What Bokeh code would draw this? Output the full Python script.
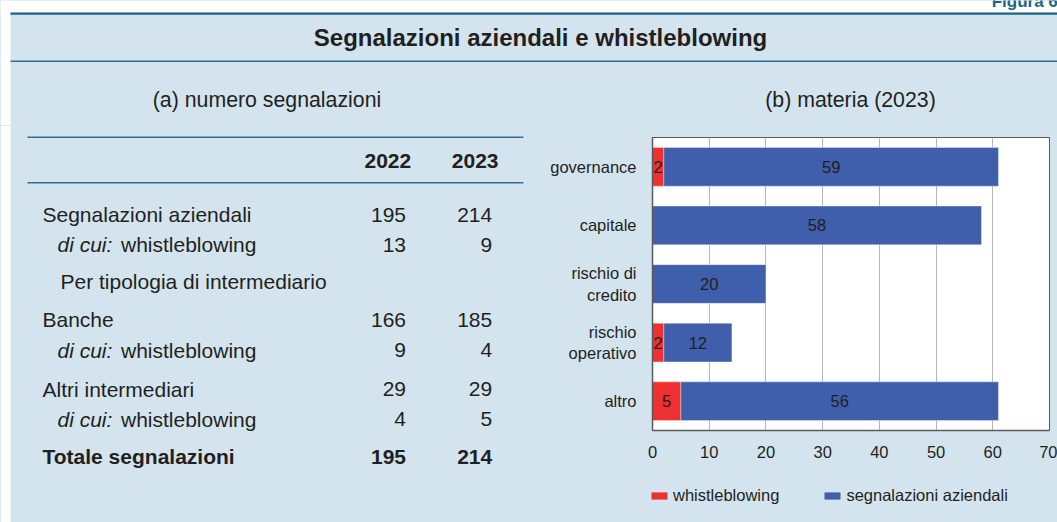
from bokeh.plotting import figure
from bokeh.models import (Range1d, ColumnDataSource, Legend, LegendItem, FixedTicker)
from bokeh.layouts import column, row
from bokeh.core.properties import value
from bokeh.embed import file_html
from bokeh.resources import INLINE

# ---------------- data ----------------
figure_tag = "Figura 6."
title = "Segnalazioni aziendali e whistleblowing"
subtitle_a = "(a) numero segnalazioni"
subtitle_b = "(b) materia (2023)"

years = ["2022", "2023"]
row_labels = ["Segnalazioni aziendali", "whistleblowing", "Per tipologia di intermediario",
              "Banche", "whistleblowing", "Altri intermediari", "whistleblowing",
              "Totale segnalazioni"]
row_prefix = ["", "di cui:", "", "", "di cui:", "", "di cui:", ""]
values_2022 = [195, 13, None, 166, 9, 29, 4, 195]
values_2023 = [214, 9, None, 185, 4, 29, 5, 214]

categories = ["governance", "capitale", "rischio di credito", "rischio operativo", "altro"]
category_lines = [["governance"], ["capitale"], ["rischio di", "credito"],
                  ["rischio", "operativo"], ["altro"]]
whistleblowing = [2, 0, 0, 2, 5]
segnalazioni = [59, 58, 20, 12, 56]
series_names = ["whistleblowing", "segnalazioni aziendali"]
x_ticks = [0, 10, 20, 30, 40, 50, 60, 70]

# ---------------- style ----------------
FONT = value("Liberation Sans")
TXT = "#231f20"
BG = "#d3e4ee"
TEAL = "#1c6586"
LINE = "#2b7193"
RED = "#ee3030"
BLUE = "#3f5eab"
AXIS = "#5a5a5a"
W, H = 1057, 522
TOP_H = 125          # height of title band figure
SPLIT = 540          # x where table area ends and chart area begins
LEG_H = 52           # height of legend strip under the chart


def no_align(f):
    try:
        f.frame_align = False
    except Exception:
        pass


def blank(width, height, xr, yr):
    f = figure(width=width, height=height, x_range=xr, y_range=yr, title=None,
               output_backend="svg", toolbar_location=None, min_border=0,
               x_axis_type=None, y_axis_type=None)
    f.outline_line_color = None
    f.grid.visible = False
    f.background_fill_color = BG
    f.border_fill_color = BG
    no_align(f)
    return f


def txt(f, x, y, text, size, style="normal", align="left", color=TXT):
    f.text(x=[x], y=[y], text=[text], text_font=FONT, text_font_size=size,
           text_font_style=style, text_align=align, text_baseline="middle",
           text_color=color)


# ---------------- title band ----------------
top = blank(W, TOP_H, Range1d(0, W), Range1d(TOP_H, 0))
top.quad(left=[0], right=[W], top=[0], bottom=[12], fill_color="white", line_color=None)
top.quad(left=[0], right=[10], top=[0], bottom=[TOP_H], fill_color="white", line_color=None)
top.quad(left=[10], right=[W], top=[12], bottom=[14.3], fill_color=TEAL, line_color=None)
top.quad(left=[10], right=[W], top=[60], bottom=[61.6], fill_color=LINE, line_color=None)
txt(top, 1062, 1.2, figure_tag, "17px", "bold", "right", TEAL)
txt(top, 540, 37.2, title, "24px", "bold", "center")
txt(top, 266.5, 99, subtitle_a, "21.3px", "normal", "center")
txt(top, 850, 99, subtitle_b, "21.3px", "normal", "center")

# ---------------- table ----------------
left = blank(SPLIT, H - TOP_H, Range1d(0, SPLIT), Range1d(H, TOP_H))
left.quad(left=[0], right=[10], top=[TOP_H], bottom=[H], fill_color="white", line_color=None)
left.quad(left=[27, 27], right=[523, 523], top=[136, 181.5], bottom=[137.6, 183.1],
          fill_color=LINE, line_color=None)
col_right = [405.5, 491.7]
hdr_right = [410.7, 498]
row_mid = [214.2, 244.2, 281, 319.2, 349.8, 388.5, 418.5, 456]
row_x = [42, 120.5, 60, 42, 120.5, 42, 120.5, 42]
prefix_x = 57
bold_rows = [False] * 7 + [True]
TS = "21px"
for j, yr in enumerate(years):
    txt(left, hdr_right[j], 160.8, yr, TS, "bold", "right")
for i, lab in enumerate(row_labels):
    style = "bold" if bold_rows[i] else "normal"
    txt(left, row_x[i], row_mid[i], lab, TS, style)
    if row_prefix[i]:
        txt(left, prefix_x, row_mid[i], row_prefix[i], TS, "italic")
    for j, vals in enumerate([values_2022, values_2023]):
        if vals[i] is not None:
            txt(left, col_right[j], row_mid[i], str(vals[i]), TS, style, "right")

# ---------------- bar chart ----------------
n = len(categories)
cat_pos = [n - 1 - i for i in range(n)]  # first category at the top
FL, FR, FT, FB = 652, 1049, 137, 430     # frame edges in page pixels
CH = H - TOP_H - LEG_H

p = figure(width=W - SPLIT, height=CH, title=None,
           x_range=Range1d(0, 70), y_range=Range1d(-0.5, n - 0.5),
           output_backend="svg", toolbar_location=None,
           min_border_left=FL - SPLIT, min_border_right=W - FR,
           min_border_top=FT - TOP_H, min_border_bottom=TOP_H + CH - FB)
no_align(p)
p.background_fill_color = "white"
p.border_fill_color = BG
p.outline_line_color = AXIS
p.outline_line_width = 1

src = ColumnDataSource(dict(pos=cat_pos, cat=categories, wb=whistleblowing, seg=segnalazioni))
rs = p.hbar_stack(["wb", "seg"], y="pos", height=0.66, source=src,
                  fill_color=[RED, BLUE], line_color="white", line_alpha=0.35, line_width=1)

lx, ly, lt = [], [], []
for yp, w, s in zip(cat_pos, whistleblowing, segnalazioni):
    if w:
        lx.append(w / 2); ly.append(yp); lt.append(str(w))
    if s:
        lx.append(w + s / 2); ly.append(yp); lt.append(str(s))
p.text(x=lx, y=ly, text=lt, text_font=FONT, text_font_size="16.5px",
       text_align="center", text_baseline="middle", text_color=TXT)

# category axis: one tick per text line, so two-line names wrap as in the reference
LINE_GAP = 0.18
y_ticks, y_over = [], {}
for yp, lines in zip(cat_pos, category_lines):
    k = len(lines)
    for m, line_txt in enumerate(lines):
        t = yp + LINE_GAP * ((k - 1) / 2 - m) * 2 / max(k - 1, 1) if k > 1 else float(yp)
        y_ticks.append(t)
        y_over[t] = line_txt

p.xaxis.ticker = FixedTicker(ticks=x_ticks)
p.xgrid.ticker = FixedTicker(ticks=x_ticks)
p.yaxis.ticker = FixedTicker(ticks=y_ticks)
p.yaxis.major_label_overrides = y_over
p.xgrid.grid_line_color = "#b8b8b8"
p.ygrid.visible = False
for ax in (p.xaxis[0], p.yaxis[0]):
    ax.axis_line_color = AXIS
    ax.axis_line_width = 1.5
    ax.major_tick_line_color = None
    ax.minor_tick_line_color = None
    ax.major_tick_out = 0
    ax.major_tick_in = 0
    ax.major_label_text_font = "Liberation Sans"
    ax.major_label_text_font_size = "16.5px"
    ax.major_label_text_color = TXT
p.xaxis.major_label_standoff = 15
p.yaxis.major_label_standoff = 16

# ---------------- legend strip ----------------
lg = blank(W - SPLIT, LEG_H, Range1d(0, 1), Range1d(0, 1))
# key renderers: a single zero-width entry per series so the legend swatches get a colour
key_src = ColumnDataSource(dict(y=[0.5], left=[0], right=[0]))
k1 = lg.hbar(y="y", left="left", right="right", height=0, source=key_src,
             fill_color=RED, line_color=None)
k2 = lg.hbar(y="y", left="left", right="right", height=0, source=key_src,
             fill_color=BLUE, line_color=None)
legend = Legend(items=[LegendItem(label=series_names[0], renderers=[k1]),
                       LegendItem(label=series_names[1], renderers=[k2])],
                location=(649 - SPLIT, 17.5), orientation="horizontal",
                glyph_width=20, glyph_height=9, label_standoff=4, spacing=43,
                padding=0, margin=0, background_fill_alpha=0, border_line_color=None,
                label_text_font="Liberation Sans", label_text_font_size="16.5px",
                label_text_color=TXT)
lg.add_layout(legend, "center")

inner = row(left, column(p, lg))
layout = column(top, inner)
for lay in (layout, inner):
    try:
        lay.styles = {"background-color": BG}
    except Exception:
        pass
open("out.html", "w").write(file_html(layout, INLINE))
